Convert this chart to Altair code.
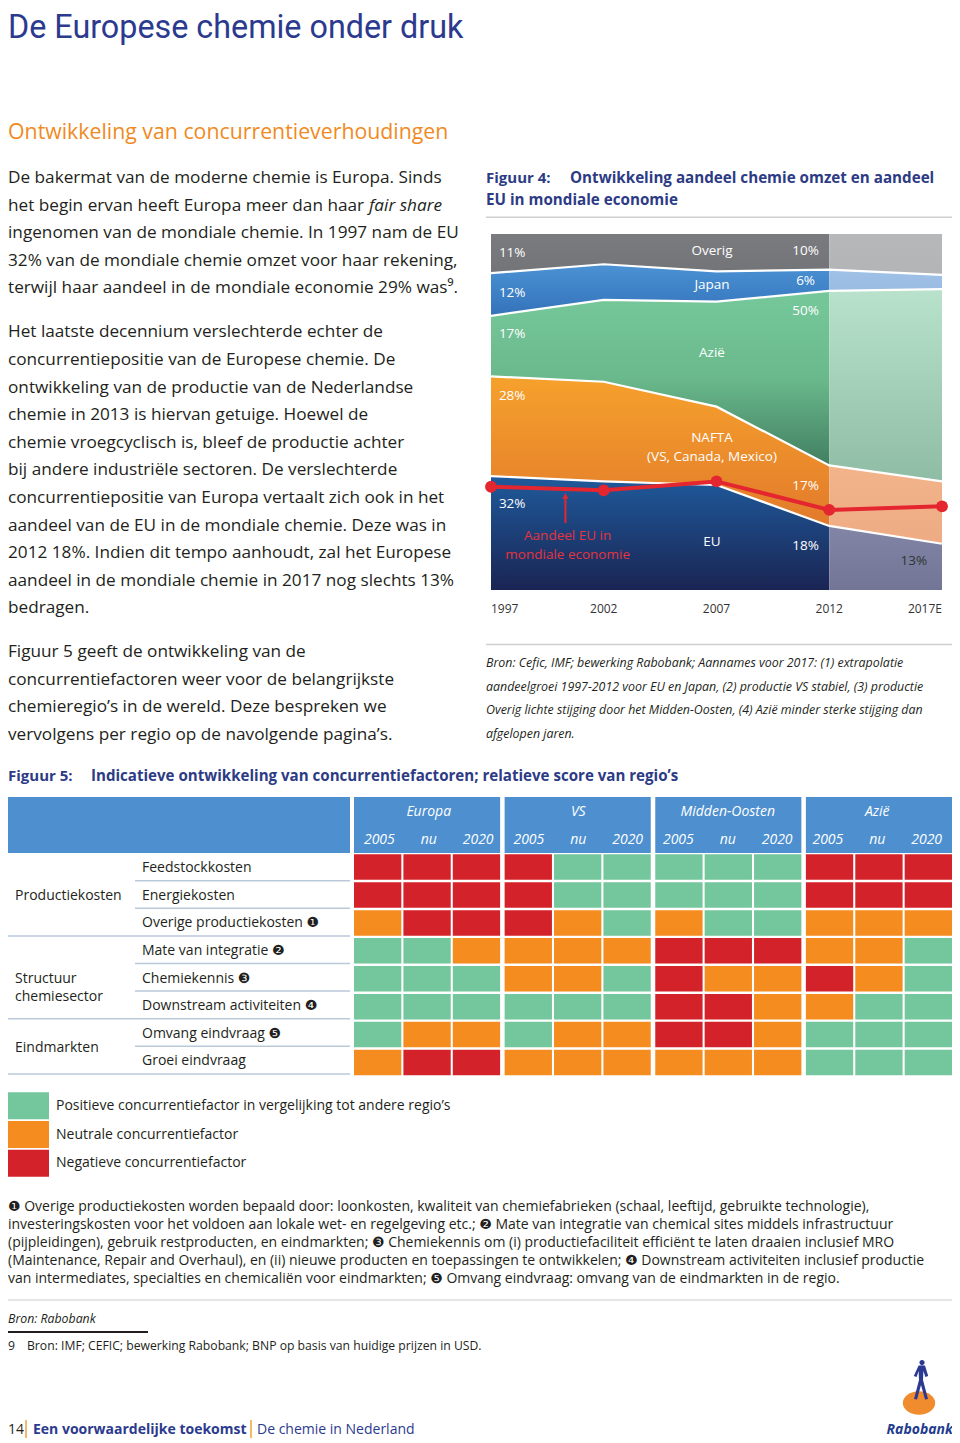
import altair as alt
import pandas as pd

# ---------------- Figuur 4 data ----------------
years = [1997, 2002, 2007, 2012, 2017]
year_labels = ["1997", "2002", "2007", "2012", "2017E"]
series = ["EU", "NAFTA", "Azië", "Japan", "Overig"]          # bottom -> top
share_eu = [32, 30.5, 29.5, 18, 13]
share_nafta = [28, 28, 22, 17, 17.5]
share_azie = [17, 23, 29.5, 49, 54]
share_japan = [12, 10, 8.5, 6, 4]
share_overig = [11, 8.5, 10.5, 10, 11.5]
eu_world_economy = [29, 28, 30.5, 22.5, 23.5]

labels_1997 = ["11%", "12%", "17%", "28%", "32%"]
labels_2012 = ["10%", "6%", "50%", "17%", "18%"]
labels_2017 = ["13%"]
band_names = ["Overig", "Japan", "Azië", "NAFTA", "(VS, Canada, Mexico)", "EU"]
eu_note = ["Aandeel EU in", "mondiale economie"]

# ---------------- Figuur 5 data ----------------
regions = ["Europa", "VS", "Midden-Oosten", "Azië"]
periods = ["2005", "nu", "2020"]
factors = ["Feedstockkosten", "Energiekosten", "Overige productiekosten ❶",
           "Mate van integratie ❷", "Chemiekennis ❸", "Downstream activiteiten ❹",
           "Omvang eindvraag ❺", "Groei eindvraag"]
groups = ["Productiekosten", "Structuur\nchemiesector", "Eindmarkten"]
group_first = [0, 3, 6]
group_last = [2, 5, 7]
# 1 = positief, 0 = neutraal, -1 = negatief ; Europa(2005,nu,2020), VS, Midden-Oosten, Azië
scores = [
    [-1, -1, -1, -1, 1, 1, 1, 1, 1, -1, -1, -1],
    [-1, -1, -1, -1, 1, 1, 1, 1, 1, -1, -1, -1],
    [0, -1, -1, -1, 0, 1, 0, 1, 1, 0, 0, 0],
    [1, 1, 0, 0, 0, 0, -1, -1, -1, 0, 0, 1],
    [1, 1, 1, 0, 0, 1, -1, 0, 0, -1, 0, 1],
    [1, 1, 1, 1, 1, 1, -1, -1, 0, 0, 1, 1],
    [1, 0, 0, 1, 0, 0, -1, -1, 0, 1, 1, 1],
    [0, -1, -1, 0, 0, 0, 0, 0, 0, 1, 1, 1],
]
legend_labels = ["Positieve concurrentiefactor in vergelijking tot andere regio’s",
                 "Neutrale concurrentiefactor", "Negatieve concurrentiefactor"]
legend_scores = [1, 0, -1]

# ---------------- page text ----------------
title = "De Europese chemie onder druk"
subtitle = "Ontwikkeling van concurrentieverhoudingen"
para1 = ["De bakermat van de moderne chemie is Europa. Sinds",
         "het begin ervan heeft Europa meer dan haar",
         "ingenomen van de mondiale chemie. In 1997 nam de EU",
         "32% van de mondiale chemie omzet voor haar rekening,",
         "terwijl haar aandeel in de mondiale economie 29% was⁹."]
para1_italic = ["fair share"]
para2 = ["Het laatste decennium verslechterde echter de",
         "concurrentiepositie van de Europese chemie. De",
         "ontwikkeling van de productie van de Nederlandse",
         "chemie in 2013 is hiervan getuige. Hoewel de",
         "chemie vroegcyclisch is, bleef de productie achter",
         "bij andere industriële sectoren. De verslechterde",
         "concurrentiepositie van Europa vertaalt zich ook in het",
         "aandeel van de EU in de mondiale chemie. Deze was in",
         "2012 18%. Indien dit tempo aanhoudt, zal het Europese",
         "aandeel in de mondiale chemie in 2017 nog slechts 13%",
         "bedragen."]
para3 = ["Figuur 5 geeft de ontwikkeling van de",
         "concurrentiefactoren weer voor de belangrijkste",
         "chemieregio’s in de wereld. Deze bespreken we",
         "vervolgens per regio op de navolgende pagina’s."]
fig4_label = ["Figuur 4:"]
fig4_title = ["Ontwikkeling aandeel chemie omzet en aandeel"]
fig4_title2 = ["EU in mondiale economie"]
fig4_source = ["Bron: Cefic, IMF; bewerking Rabobank; Aannames voor 2017: (1) extrapolatie",
               "aandeelgroei 1997-2012 voor EU en Japan, (2) productie VS stabiel, (3) productie",
               "Overig lichte stijging door het Midden-Oosten, (4) Azië minder sterke stijging dan",
               "afgelopen jaren."]
fig5_label = ["Figuur 5:"]
fig5_title = ["Indicatieve ontwikkeling van concurrentiefactoren; relatieve score van regio’s"]
footnotes = ["❶ Overige productiekosten worden bepaald door: loonkosten, kwaliteit van chemiefabrieken (schaal, leeftijd, gebruikte technologie),",
             "investeringskosten voor het voldoen aan lokale wet- en regelgeving etc.; ❷ Mate van integratie van chemical sites middels infrastructuur",
             "(pijpleidingen), gebruik restproducten, en eindmarkten; ❸ Chemiekennis om (i) productiefaciliteit efficiënt te laten draaien inclusief MRO",
             "(Maintenance, Repair and Overhaul), en (ii) nieuwe producten en toepassingen te ontwikkelen; ❹ Downstream activiteiten inclusief productie",
             "van intermediates, specialties en chemicaliën voor eindmarkten; ❺ Omvang eindvraag: omvang van de eindmarkten in de regio."]
source5 = ["Bron: Rabobank"]
fn_num = ["9"]
fn_text = ["Bron: IMF; CEFIC; bewerking Rabobank; BNP op basis van huidige prijzen in USD."]
footer_page = ["14"]
footer_bold = ["Een voorwaardelijke toekomst"]
footer_rest = ["De chemie in Nederland"]
logo_text = ["Rabobank"]

# ---------------- styling ----------------
BODY = "Open Sans, Noto Sans, DejaVu Sans, sans-serif"
TITLEFONT = "Roboto, Open Sans, sans-serif"
INK = "#231f20"
NAVY = "#2b3a8e"
FIGNAVY = "#2d3b85"
ORANGE = "#f08a24"
RED = "#e3262f"
GREEN_C, ORANGE_C, RED_C = "#74c69c", "#f48c1f", "#d4222a"
HEADER = "#4d8fcf"
LINE_BLUE = "#b9c9da"


def C(v):
    return v - 8


layers = []


def text_block(lines, x, base, step=20, size=14, color=INK, weight="normal",
               style="normal", font=BODY, align="left"):
    df = pd.DataFrame({"t": lines, "i": list(range(len(lines)))})
    return alt.Chart(df).mark_text(
        align=align, baseline="alphabetic", font=font, fontSize=size,
        fontWeight=weight, fontStyle=style, color=color
    ).encode(
        x=alt.value(C(x)),
        y=alt.Y("i:Q", axis=None,
                scale=alt.Scale(domain=[0, 1], range=[C(base), C(base + step)],
                                nice=False, zero=False)),
        text="t:N",
    )


def hrule(x1, x2, y, color="#cfcfcf", width=1.5):
    return alt.Chart(pd.DataFrame({"k": [0]})).mark_rule(
        color=color, strokeWidth=width
    ).encode(x=alt.value(C(x1)), x2=alt.value(C(x2)), y=alt.value(C(y)))


def vrule(x, y1, y2, color, width=1.5):
    return alt.Chart(pd.DataFrame({"k": [0]})).mark_rule(
        color=color, strokeWidth=width
    ).encode(x=alt.value(C(x)), y=alt.value(C(y1)), y2=alt.value(C(y2)))


# ---------------- page texts ----------------
layers += [
    text_block([title], 8, 38.3, size=32.3, color=NAVY, font=TITLEFONT),
    text_block([subtitle], 8, 139, size=21.3, color=ORANGE),
    text_block(para1, 8, 183.3, step=27.5, size=17.2),
    text_block(para1_italic, 369, 210.8, size=17.2, style="italic"),
    text_block(para2, 8, 337.3, step=27.6, size=17.2),
    text_block(para3, 8, 657.3, step=27.5, size=17.2),
    text_block(fig4_label, 486, 182.7, size=15, weight="bold", color=FIGNAVY),
    text_block(fig4_title, 570, 182.7, size=15.2, weight="bold", color=FIGNAVY),
    text_block(fig4_title2, 486, 205, size=15.2, weight="bold", color=FIGNAVY),
    hrule(486, 953, 217.3),
    hrule(486, 953, 644.5),
    text_block(fig4_source, 486, 667.3, step=23.4, size=12.4, style="italic"),
    text_block(fig5_label, 8, 780.5, size=15, weight="bold", color=FIGNAVY),
    text_block(fig5_title, 91, 780.5, size=15.1, weight="bold", color=FIGNAVY),
    text_block(footnotes, 8, 1210.5, step=18, size=14.0),
    hrule(7, 953, 1300, color="#dddddd"),
    text_block(source5, 8, 1323, size=12.3, style="italic"),
    hrule(7, 148, 1332, color=INK, width=2),
    text_block(fn_num, 8, 1350, size=12.2),
    text_block(fn_text, 27, 1350, size=12.2),
    text_block(footer_page, 8, 1434, size=14),
    vrule(26, 1420, 1438, "#f0a23a"),
    text_block(footer_bold, 33, 1434, size=14, weight="bold", color=NAVY),
    vrule(251, 1420, 1438, "#f0a23a"),
    text_block(footer_rest, 257, 1434, size=14, color=NAVY),
    text_block(logo_text, 953, 1434, size=14, weight="bold", style="italic",
               color="#1f3c8e", align="right"),
]

# Rabobank logo shapes
ELLIPSE = "M-1,0A1,0.72,0,1,0,1,0A1,0.72,0,1,0,-1,0Z"
FIGURE = ("M0.05,-1A0.13,0.13,0,1,0,0.051,-1Z"
          "M-0.12,-0.72L0.2,-0.72L0.36,-0.2L0.22,-0.15L0.12,-0.45L0.1,0L0.35,0.95"
          "L0.2,0.98L0,0.25L-0.2,0.98L-0.35,0.95L-0.1,0L-0.12,-0.45L-0.22,-0.15L-0.36,-0.2Z")
layers.append(alt.Chart(pd.DataFrame({"k": [0]})).mark_point(
    shape=ELLIPSE, filled=True, color="#f08c2e", opacity=1, size=1050
).encode(x=alt.value(C(919)), y=alt.value(C(1403))))
layers.append(alt.Chart(pd.DataFrame({"k": [0]})).mark_point(
    shape=FIGURE, filled=True, color="#2b3990", opacity=1, size=1600
).encode(x=alt.value(C(921)), y=alt.value(C(1380))))

# ---------------- Figuur 4: area chart ----------------
XS = alt.Scale(domain=[1997, 2017], range=[C(491), C(942)], nice=False, zero=False)
YS = alt.Scale(domain=[0, 100], range=[C(590), C(234)], nice=False, zero=False)

area_df = pd.DataFrame({
    "year": years * len(series),
    "series": [s for s in series for _ in years],
    "order": [i for i, _ in enumerate(series) for _ in years],
    "share": share_eu + share_nafta + share_azie + share_japan + share_overig,
})


def stacked():
    return alt.Chart(area_df).transform_stack(
        stack="share", groupby=["year"], as_=["y0", "y1"],
        sort=[alt.SortField("order", "ascending")])


dark = {
    "Overig": [("#7a7b7e", 0), ("#737477", 1)],
    "Japan": [("#4b92d4", 0), ("#3472ba", 1)],
    "Azië": [("#76c89b", 0), ("#6ab98c", 0.5), ("#417f61", 1)],
    "NAFTA": [("#f6a12c", 0), ("#e27a2b", 1)],
    "EU": [("#1f5a9c", 0), ("#1a2553", 1)],
}
light = {
    "Overig": [("#b7b8ba", 0), ("#b3b4b6", 1)],
    "Japan": [("#a0c1e6", 0), ("#9abce3", 1)],
    "Azië": [("#b8e2cc", 0), ("#8fbca5", 1)],
    "NAFTA": [("#f2b48a", 0), ("#eeab84", 1)],
    "EU": [("#8285a6", 0), ("#727596", 1)],
}

for s in series:
    for lo, hi, pal in [(1997, 2012, dark), (2012, 2017, light)]:
        grad = alt.LinearGradient(
            gradient="linear",
            stops=[alt.GradientStop(color=c, offset=o) for c, o in pal[s]],
            x1=0, x2=0, y1=0, y2=1)
        layers.append(
            stacked().transform_filter(
                (alt.datum.series == s) & (alt.datum.year >= lo) & (alt.datum.year <= hi)
            ).mark_area(color=grad, interpolate="linear").encode(
                x=alt.X("year:Q", scale=XS, axis=None),
                y=alt.Y("y1:Q", scale=YS, axis=None),
                y2="y0:Q",
            )
        )

layers.append(
    stacked().transform_filter(alt.datum.series != "Overig").mark_line(
        color="white", strokeWidth=2.2
    ).encode(
        x=alt.X("year:Q", scale=XS, axis=None),
        y=alt.Y("y1:Q", scale=YS, axis=None),
        detail="series:N",
    )
)

eco_df = pd.DataFrame({"year": years, "eco": eu_world_economy})
layers.append(alt.Chart(eco_df).mark_line(color=RED, strokeWidth=4).encode(
    x=alt.X("year:Q", scale=XS, axis=None), y=alt.Y("eco:Q", scale=YS, axis=None)))
layers.append(alt.Chart(eco_df).mark_circle(color=RED, size=140, opacity=1).encode(
    x=alt.X("year:Q", scale=XS, axis=None), y=alt.Y("eco:Q", scale=YS, axis=None)))

# arrow pointing to the EU economy line
arrow_df = pd.DataFrame({"year": [2000.3], "lo": [18.8], "hi": [26.4]})
layers.append(alt.Chart(arrow_df).mark_rule(color=RED, strokeWidth=2).encode(
    x=alt.X("year:Q", scale=XS, axis=None), y=alt.Y("lo:Q", scale=YS, axis=None), y2="hi:Q"))
layers.append(alt.Chart(arrow_df).mark_point(shape="triangle-up", filled=True, color=RED,
                                             opacity=1, size=40).encode(
    x=alt.X("year:Q", scale=XS, axis=None), y=alt.Y("hi:Q", scale=YS, axis=None)))


def chart_labels(texts, year, pcts, color="white", align="center", size=13.5):
    df = pd.DataFrame({"t": texts, "year": [year] * len(texts), "pct": pcts})
    return alt.Chart(df).mark_text(
        font=BODY, fontSize=size, color=color, align=align, baseline="middle"
    ).encode(
        x=alt.X("year:Q", scale=XS, axis=None),
        y=alt.Y("pct:Q", scale=YS, axis=None),
        text="t:N",
    )


layers += [
    chart_labels(labels_1997, 1997.35, [94.7, 83.4, 71.9, 54.5, 24.2], align="left"),
    chart_labels(labels_2012, 2010.95, [95.2, 86.8, 78.4, 29.2, 12.4]),
    chart_labels(band_names, 2006.8, [95.2, 85.7, 66.6, 42.7, 37.4, 13.5]),
    chart_labels(labels_2017, 2015.75, [8.1], color="#333333"),
    chart_labels(eu_note, 2000.4, [15.2, 9.8], color="#e3343f"),
]

# year labels under the chart
tick_df = pd.DataFrame({"year": years, "lab": year_labels})
for cond, align in [(alt.datum.year == 1997, "left"),
                    ((alt.datum.year > 1997) & (alt.datum.year < 2017), "center"),
                    (alt.datum.year == 2017, "right")]:
    layers.append(alt.Chart(tick_df).transform_filter(cond).mark_text(
        font=BODY, fontSize=12, color="#333333", align=align, baseline="alphabetic"
    ).encode(x=alt.X("year:Q", scale=XS, axis=None), y=alt.value(C(613)), text="lab:N"))

# ---------------- Figuur 5: score table ----------------
XB = alt.Scale(domain=regions, range=[C(354), C(952)], paddingInner=0.03, paddingOuter=0)
XO = alt.Scale(domain=periods, paddingInner=0.042, paddingOuter=0)
YB = alt.Scale(domain=factors, range=[C(854.3), C(1075.3)], paddingInner=0.087, paddingOuter=0)
CS = alt.Scale(domain=[1, 0, -1], range=[GREEN_C, ORANGE_C, RED_C])

cells = pd.DataFrame([
    {"factor": f, "region": regions[j // 3], "period": periods[j % 3], "score": scores[i][j]}
    for i, f in enumerate(factors) for j in range(12)
])
layers.append(alt.Chart(cells).mark_rect().encode(
    x=alt.X("region:N", scale=XB, axis=None),
    xOffset=alt.XOffset("period:N", scale=XO),
    y=alt.Y("factor:N", scale=YB, axis=None),
    color=alt.Color("score:O", scale=CS, legend=None),
))

# header band
layers.append(alt.Chart(pd.DataFrame({"k": [0]})).mark_rect(color=HEADER).encode(
    x=alt.value(C(7)), x2=alt.value(C(350)), y=alt.value(C(797)), y2=alt.value(C(853))))
reg_df = pd.DataFrame({"region": regions})
layers.append(alt.Chart(reg_df).mark_rect(color=HEADER).encode(
    x=alt.X("region:N", scale=XB, axis=None), y=alt.value(C(797)), y2=alt.value(C(853))))
layers.append(alt.Chart(reg_df).mark_text(
    font=BODY, fontSize=14, fontStyle="italic", color="white", baseline="middle"
).encode(x=alt.X("region:N", scale=XB, axis=None), y=alt.value(C(812)), text="region:N"))

# sub-column labels: centred in each third of the region band
SUBSTEP = 49.4
rp_df = pd.DataFrame([{"region": r, "period": p} for r in regions for p in periods])
for k, p in enumerate(periods):
    layers.append(alt.Chart(rp_df).transform_filter(alt.datum.period == p).mark_text(
        font=BODY, fontSize=14, fontStyle="italic", color="white", baseline="middle",
        dx=(k - 1) * SUBSTEP
    ).encode(x=alt.X("region:N", scale=XB, axis=None),
             y=alt.value(C(840)), text="period:N"))

# left labels
layers.append(alt.Chart(pd.DataFrame({"factor": factors})).mark_text(
    font=BODY, fontSize=14, color=INK, align="left", baseline="middle"
).encode(x=alt.value(C(142)), y=alt.Y("factor:N", scale=YB, axis=None), text="factor:N"))

ROWS = alt.Scale(domain=[0, 8], range=[C(854.3), C(1075.1)], nice=False, zero=False)
grp_df = pd.DataFrame({"g": groups, "first": group_first, "last": group_last})
layers.append(alt.Chart(grp_df).transform_calculate(
    mid="(datum.first + datum.last + 1) / 2"
).mark_text(font=BODY, fontSize=14, color=INK, align="left", baseline="middle",
            lineBreak="\n", lineHeight=18).encode(
    x=alt.value(C(15)), y=alt.Y("mid:Q", scale=ROWS, axis=None), text="g:N"))

RULES = alt.Scale(domain=[0, 8], range=[C(853.1), C(1073.9)], nice=False, zero=False)
group_ends = [l + 1 for l in group_last]
item_bounds = [k for k in range(1, len(factors) + 1) if k not in group_ends]
layers.append(alt.Chart(pd.DataFrame({"b": item_bounds})).mark_rule(
    color=LINE_BLUE, strokeWidth=1.5).encode(
    x=alt.value(C(135)), x2=alt.value(C(350)), y=alt.Y("b:Q", scale=RULES, axis=None)))
layers.append(alt.Chart(pd.DataFrame({"b": group_ends})).mark_rule(
    color=LINE_BLUE, strokeWidth=1.5).encode(
    x=alt.value(C(7)), x2=alt.value(C(350)), y=alt.Y("b:Q", scale=RULES, axis=None)))

# legend
LB = alt.Scale(domain=legend_labels, range=[C(1092.3), C(1176.7)], paddingInner=0.06, paddingOuter=0)
leg_df = pd.DataFrame({"lab": legend_labels, "score": legend_scores})
layers.append(alt.Chart(leg_df).mark_rect().encode(
    x=alt.value(C(7)), x2=alt.value(C(49)),
    y=alt.Y("lab:N", scale=LB, axis=None),
    color=alt.Color("score:O", scale=CS, legend=None)))
layers.append(alt.Chart(leg_df).mark_text(
    font=BODY, fontSize=14, color=INK, align="left", baseline="middle"
).encode(x=alt.value(C(56)), y=alt.Y("lab:N", scale=LB, axis=None), text="lab:N"))

chart = alt.layer(*layers).properties(
    width=944, height=1435,
    autosize=alt.AutoSizeParams(type="none"),
    padding=0, background="white",
).resolve_scale(
    x="independent", y="independent", color="independent", xOffset="independent"
).configure_view(stroke=None)

chart.save("out.html", embed_options={"renderer": "svg", "actions": False})
